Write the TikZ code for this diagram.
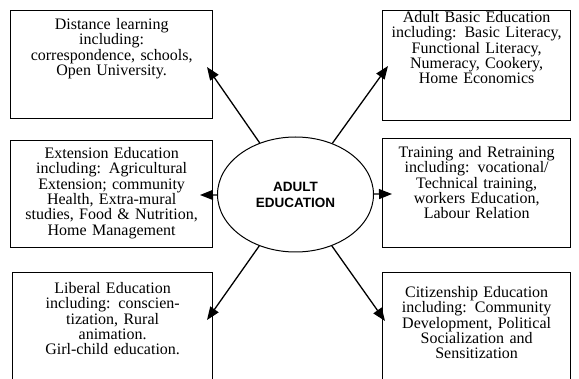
\documentclass[tikz,border=0pt]{standalone}
\usepackage{fontspec}
\setmainfont{Liberation Serif}
\setsansfont{Liberation Sans}
\usepackage{tikz}
\usetikzlibrary{shapes.geometric,arrows.meta}

\begin{document}
\begin{tikzpicture}[x=1pt, y=-1pt,
  topic/.style={draw, line width=1.3pt, anchor=north west, inner sep=0pt, align=center, font=\fontsize{16}{15.3}\selectfont},
  link/.style={line width=1.3pt, -{Triangle[length=13pt, width=10pt]}}]
\useasboundingbox (0,0) rectangle (579,379);
\clip (0,0) rectangle (579,379);
\node[draw, ellipse, line width=1pt, minimum width=156pt, minimum height=115pt, align=center, font=\sffamily\bfseries\fontsize{13.5}{16}\selectfont] (adult) at (295.5,194.5) {ADULT\\EDUCATION};
\node[topic, text width=202pt, text height=19pt, text depth=89pt] (distance) at (10,10) {Distance learning\\including:\\correspondence, schools,\\Open University.};
\node[topic, text width=188pt, text height=12pt, text depth=98pt] (basic) at (382,10) {Adult Basic Education\\including: Basic Literacy,\\Functional Literacy,\\Numeracy, Cookery,\\Home Economics};
\node[topic, text width=202pt, text height=18pt, text depth=89pt] (extension) at (10,140) {Extension Education\\including: Agricultural\\Extension; community\\Health, Extra-mural\\studies, Food \& Nutrition,\\Home Management};
\node[topic, text width=188pt, text height=19pt, text depth=90pt] (training) at (382,138) {Training and Retraining\\including: vocational/\\Technical training,\\workers Education,\\Labour Relation};
\node[topic, text width=200pt, text height=21pt, text depth=120pt] (liberal) at (12,272) {Liberal Education\\including: conscien-\\tization, Rural\\animation.\\Girl-child education.};
\node[topic, text width=188pt, text height=25pt, text depth=120pt] (citizen) at (382,272) {Citizenship Education\\including: Community\\Development, Political\\Socialization and\\Sensitization};
\coordinate (tipD) at (207,67);
\coordinate (tipB) at (388,66);
\coordinate (tipE) at (200,195);
\coordinate (tipT) at (392,194);
\coordinate (tipL) at (207,320);
\coordinate (tipC) at (385,321);
\draw[link] (adult) -- (tipD);
\draw[link] (adult) -- (tipB);
\draw[link] (adult) -- (tipE);
\draw[link] (adult) -- (tipT);
\draw[link] (adult) -- (tipL);
\draw[link] (adult) -- (tipC);
\end{tikzpicture}
\end{document}
